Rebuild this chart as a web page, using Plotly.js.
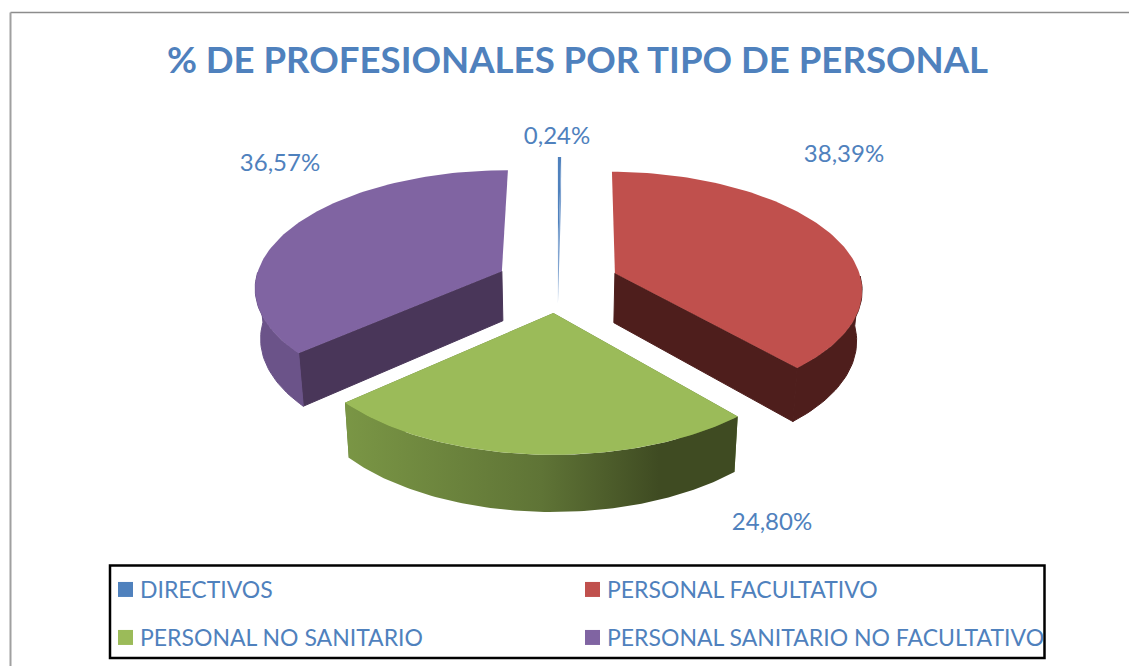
<!DOCTYPE html>
<html>
<head>
<meta charset="utf-8">
<script src="https://cdn.plot.ly/plotly-3.0.1.min.js"></script>
<style>html,body{margin:0;padding:0;background:#fff;overflow:hidden}#chart{width:1129px;height:666px}</style>
</head>
<body>
<div id="chart"></div>
<script>
// ---- data ----
const categories = ['DIRECTIVOS', 'PERSONAL FACULTATIVO', 'PERSONAL NO SANITARIO', 'PERSONAL SANITARIO NO FACULTATIVO'];
const percents = [0.24, 38.39, 24.80, 36.57];
const chartTitle = '% DE PROFESIONALES POR TIPO DE PERSONAL';

// ---- styles ----
const topColors = ['#4f81bd', '#c0504d', '#9bbb59', '#8064a2'];
const startCutColors = ['#7fa3d0', null, '#5f7a33', '#493659'];
const endCutColors = ['#7fa3d0', '#4e1e1c', '#5f7a33', null];
const wallScales = [
  null,
  null,
  [[0, '#7a9645'], [0.5, '#5f7436'], [0.8, '#3f4b22'], [1, '#3f4b22']],
  null
];
const wallColors = ['#4f81bd', '#4e1e1c', '#5f7a33', '#6b5389'];
const textColor = '#4f81bd';
const labelPosX = [557, 844, 772, 280];
const labelPosY = [138, 156, 524, 165];
const legendIds = ['legend', 'legend2', 'legend3', 'legend4'];
const legendPosX = [100, 567, 100, 567];
const legendPosY = [568, 568, 616, 616];

// ---- exploded 3D pie projection onto pixel-scaled axes ----
const cx = 557.5, cy = 283, a = 247, b = 116.3, k = 0.1235, explode = 0.25, depth = 50, shrink = 0.982;
function project(X, Y, low) {
  const s = 1 / (1 - k * Y);
  let x = cx + a * X * s, y = cy + b * Y * s;
  if (low) { x = cx + (x - cx) * shrink; y += depth * Math.pow(s, 0.8); }
  return [x, y];
}
function poly(points) {
  return { x: points.map(p => p[0]).concat([points[0][0]]), y: points.map(p => p[1]).concat([points[0][1]]) };
}
function fillTrace(points, color, scale, lineWidth) {
  const p = poly(points);
  const xs = p.x;
  const t = { type: 'scatter', mode: 'lines', x: p.x, y: p.y, fill: 'toself', line: { width: lineWidth || 0, color: color },
    fillcolor: color, hoverinfo: 'skip', showlegend: false };
  if (scale) t.fillgradient = { type: 'horizontal', colorscale: scale, start: Math.min(...xs), stop: Math.max(...xs) };
  return t;
}
const total = percents.reduce((m, v) => m + v, 0);
const traces = [];
let acc = 0;
percents.forEach((v, i) => {
  const t0 = acc / total * 2 * Math.PI, t1 = (acc + v) / total * 2 * Math.PI;
  acc += v;
  const mid = (t0 + t1) / 2;
  const ox = explode * Math.sin(mid), oy = -explode * Math.cos(mid);
  const n = 90, arc = [], front = [];
  for (let j = 0; j <= n; j++) {
    const t = t0 + (t1 - t0) * j / n;
    const pt = [ox + Math.sin(t), oy - Math.cos(t)];
    arc.push(pt);
    if (Math.cos(t) <= 0) front.push(pt);   // only the near half of the rim can be seen
  }
  const up = arc.map(p => project(p[0], p[1], false));
  const frontUp = front.map(p => project(p[0], p[1], false));
  const frontLow = front.map(p => project(p[0], p[1], true));
  const low = arc.map(p => project(p[0], p[1], true));
  const apexU = project(ox, oy, false), apexL = project(ox, oy, true);
  const seam = (i === 1 || i === 3) ? 1 : 0;
  if (startCutColors[i]) traces.push(fillTrace([apexU, up[0], low[0], apexL], startCutColors[i], null, seam));
  if (endCutColors[i]) traces.push(fillTrace([apexU, up[n], low[n], apexL], endCutColors[i], null, seam));
  if (front.length) traces.push(fillTrace(frontUp.concat(frontLow.slice().reverse()), wallColors[i], wallScales[i], seam));
  traces.push(fillTrace([apexU].concat(up), topColors[i]));
});

// legend keys
categories.forEach((c, i) => traces.push({
  type: 'scatter', mode: 'markers', x: [null], y: [null], name: c, legend: legendIds[i],
  marker: { symbol: 'square', size: 15, color: topColors[i], angle: 90, standoff: 5.5 }, hoverinfo: 'skip'
}));

// percentage labels
traces.push({
  type: 'scatter', mode: 'text', x: labelPosX, y: labelPosY,
  text: percents.map(v => v.toFixed(2).replace('.', ',') + '%'),
  textposition: 'middle center', textfont: { family: 'Lato', size: 24, color: textColor },
  hoverinfo: 'skip', showlegend: false
});

const layout = {
  width: 1129, height: 666, margin: { l: 0, r: 0, t: 0, b: 0, autoexpand: false },
  paper_bgcolor: '#fff', plot_bgcolor: '#fff', font: { family: 'Lato', color: textColor },
  title: { text: chartTitle, font: { family: 'Lato', size: 36.6, color: textColor, weight: 700 },
    x: 577.5 / 1129, xanchor: 'center', y: 1 - 60 / 666, yanchor: 'middle' },
  xaxis: { range: [0, 1129], visible: false, fixedrange: true },
  yaxis: { range: [666, 0], visible: false, fixedrange: true },
  shapes: [
    { type: 'line', xref: 'paper', yref: 'paper', x0: 10.5 / 1129, x1: 1, y0: 1 - 12.5 / 666, y1: 1 - 12.5 / 666, line: { color: '#8c8c8c', width: 1.5 } },
    { type: 'line', xref: 'paper', yref: 'paper', x0: 10.5 / 1129, x1: 10.5 / 1129, y0: 0, y1: 1 - 12.5 / 666, line: { color: '#a0a0a0', width: 2 } },
    { type: 'rect', xref: 'paper', yref: 'paper', x0: 110 / 1129, x1: 1044.5 / 1129, y0: 1 - 658 / 666, y1: 1 - 565.5 / 666, line: { color: '#000', width: 2.5 } }
  ],
  showlegend: true
};
legendIds.forEach((id, i) => {
  layout[id] = {
    orientation: 'v', xanchor: 'left', yanchor: 'top',
    x: legendPosX[i] / 1129, y: 1 - legendPosY[i] / 666,
    itemsizing: 'trace', borderwidth: 0, bgcolor: 'rgba(0,0,0,0)',
    font: { family: 'Lato', size: 23, color: textColor }
  };
});
Plotly.newPlot('chart', traces, layout, { displayModeBar: false, staticPlot: true });
</script>
</body>
</html>
